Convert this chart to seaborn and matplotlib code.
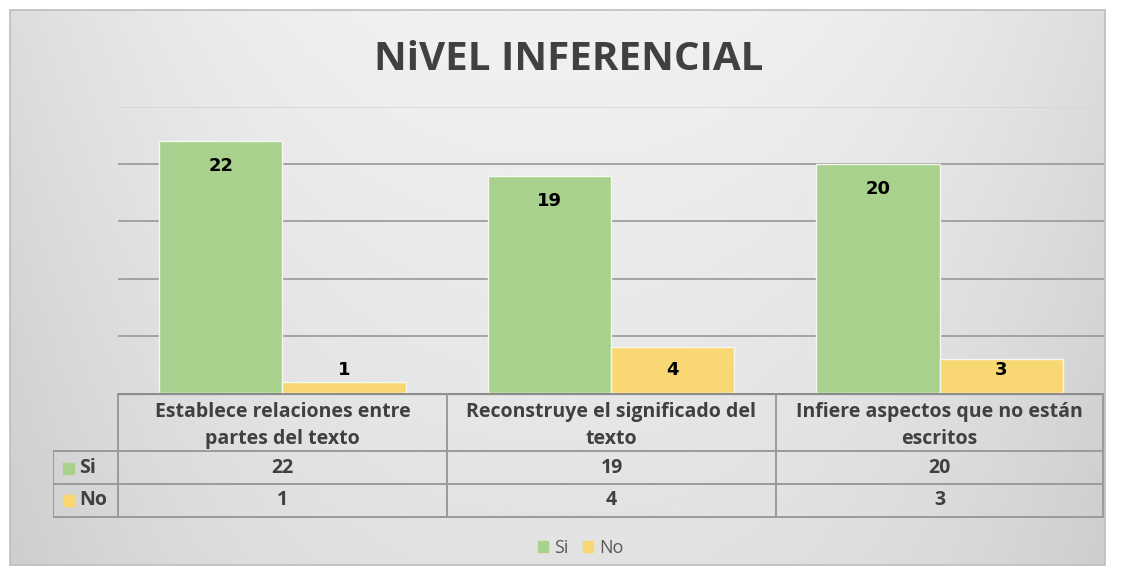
import numpy as np
import pandas as pd
import matplotlib
matplotlib.use('Agg')
import matplotlib.pyplot as plt
from matplotlib.patches import Patch, Rectangle
import seaborn as sns

# data
categorias = ['Establece relaciones entre\npartes del texto',
              'Reconstruye el significado del\ntexto',
              'Infiere aspectos que no están\nescritos']
si = [22, 19, 20]
no = [1, 4, 3]
series = ['Si', 'No']
colores = ['#A9D18E', '#F9D873']

df = pd.DataFrame({
    'cat': categorias * 2,
    'serie': ['Si'] * 3 + ['No'] * 3,
    'valor': si + no,
})

sns.set_theme(style='white')
plt.rcParams['font.family'] = ['Open Sans', 'DejaVu Sans']

W, H = 1121, 575
fig = plt.figure(figsize=(W / 100, H / 100), dpi=100)
fig.patch.set_facecolor('white')

def fx(px):
    return px / W

def fy(py):
    return 1 - py / H

# background panel with soft gradient
bg = fig.add_axes([0, 0, 1, 1], zorder=-5)
bg.set_xlim(0, W)
bg.set_ylim(H, 0)
bg.axis('off')
xx = np.linspace(-1, 1, 400)
yy = np.linspace(0, 1, 200)
gx, gy = np.meshgrid(xx, yy)
grad = 0.945 - 0.08 * np.abs(gx) ** 2.5 - 0.06 * gy
bg.imshow(grad, cmap='gray', vmin=0, vmax=1, extent=[10, 1105, 565, 10],
          aspect='auto', interpolation='bilinear')
bg.add_patch(Rectangle((10, 10), 1095, 555, fill=False, edgecolor='#BDBDBD', lw=1.2))

# main bars
ax = fig.add_axes([fx(118), fy(393), fx(1104) - fx(118), fy(107) - fy(393)])
ax.set_facecolor('none')
sns.barplot(data=df, x='cat', y='valor', hue='serie', palette=colores,
            width=0.75, edgecolor='#F4F8EE', linewidth=1, saturation=1,
            legend=False, ax=ax, zorder=3)
ax.set_ylim(0, 25)
ax.set_xlim(-0.5, 2.5)
ax.set_yticks([5, 10, 15, 20, 25])
ax.yaxis.grid(True, color='#9E9E9E', lw=1.3, zorder=0)
ax.get_ygridlines()[-1].set_color('#D6D6D6')
ax.set_xticks([])
ax.set_yticklabels([])
ax.tick_params(left=False, bottom=False)
ax.set_xlabel('')
ax.set_ylabel('')
for s in ax.spines.values():
    s.set_visible(False)

for cont in ax.containers:
    for bar in cont:
        v = bar.get_height()
        ty = max(v - 2.2, 2.0)
        ax.text(bar.get_x() + bar.get_width() / 2, ty, f'{int(v)}',
                ha='center', va='center', fontsize=13, fontweight='bold',
                color='black', family='DejaVu Sans', zorder=5)

# data table
left_px = 53
tab = fig.add_axes([fx(left_px), fy(519), fx(1104) - fx(left_px), fy(393) - fy(519)])
tab.set_xlim(left_px, 1104)
tab.set_ylim(519, 393)
tab.axis('off')
lc = '#9A9A9A'
cols = [118, 447, 776, 1103]
tab.plot([118, 1103], [394, 394], color='#8C8C8C', lw=1.6)
for yv in [451, 484, 517]:
    tab.plot([left_px, 1103], [yv, yv], color=lc, lw=1.4)
for xv in cols:
    tab.plot([xv, xv], [394, 517], color=lc, lw=1.4)
tab.plot([left_px, left_px], [451, 517], color=lc, lw=1.4)

tcol = '#404040'
fs = 14
for i, c in enumerate(categorias):
    xc = (cols[i] + cols[i + 1]) / 2
    tab.text(xc, 425.5, c, ha='center', va='center', fontsize=fs,
             fontweight='bold', color=tcol, linespacing=1.42)
    tab.text(xc, 468, f'{si[i]}', ha='center', va='center', fontsize=fs,
             fontweight='bold', color=tcol)
    tab.text(xc, 500, f'{no[i]}', ha='center', va='center', fontsize=fs,
             fontweight='bold', color=tcol)
for yc, name, col in [(468, 'Si', colores[0]), (500, 'No', colores[1])]:
    tab.add_patch(Rectangle((63, yc - 5.5), 11, 11, color=col))
    tab.text(79, yc, name, ha='left', va='center', fontsize=fs,
             fontweight='bold', color=tcol)

# title
fig.text(fx(569), fy(60), 'NiVEL INFERENCIAL', ha='center', va='center',
         fontsize=29, fontweight='bold', color='#404040')

# legend
handles = [Patch(color=colores[0], label='Si'), Patch(color=colores[1], label='No')]
fig.legend(handles=handles, loc='center', bbox_to_anchor=(fx(581), fy(548)),
           ncol=2, frameon=False, fontsize=13, handlelength=0.55, handleheight=0.55,
           handletextpad=0.35, columnspacing=0.8, labelcolor='#595959')

fig.savefig('out.png', dpi=100)
